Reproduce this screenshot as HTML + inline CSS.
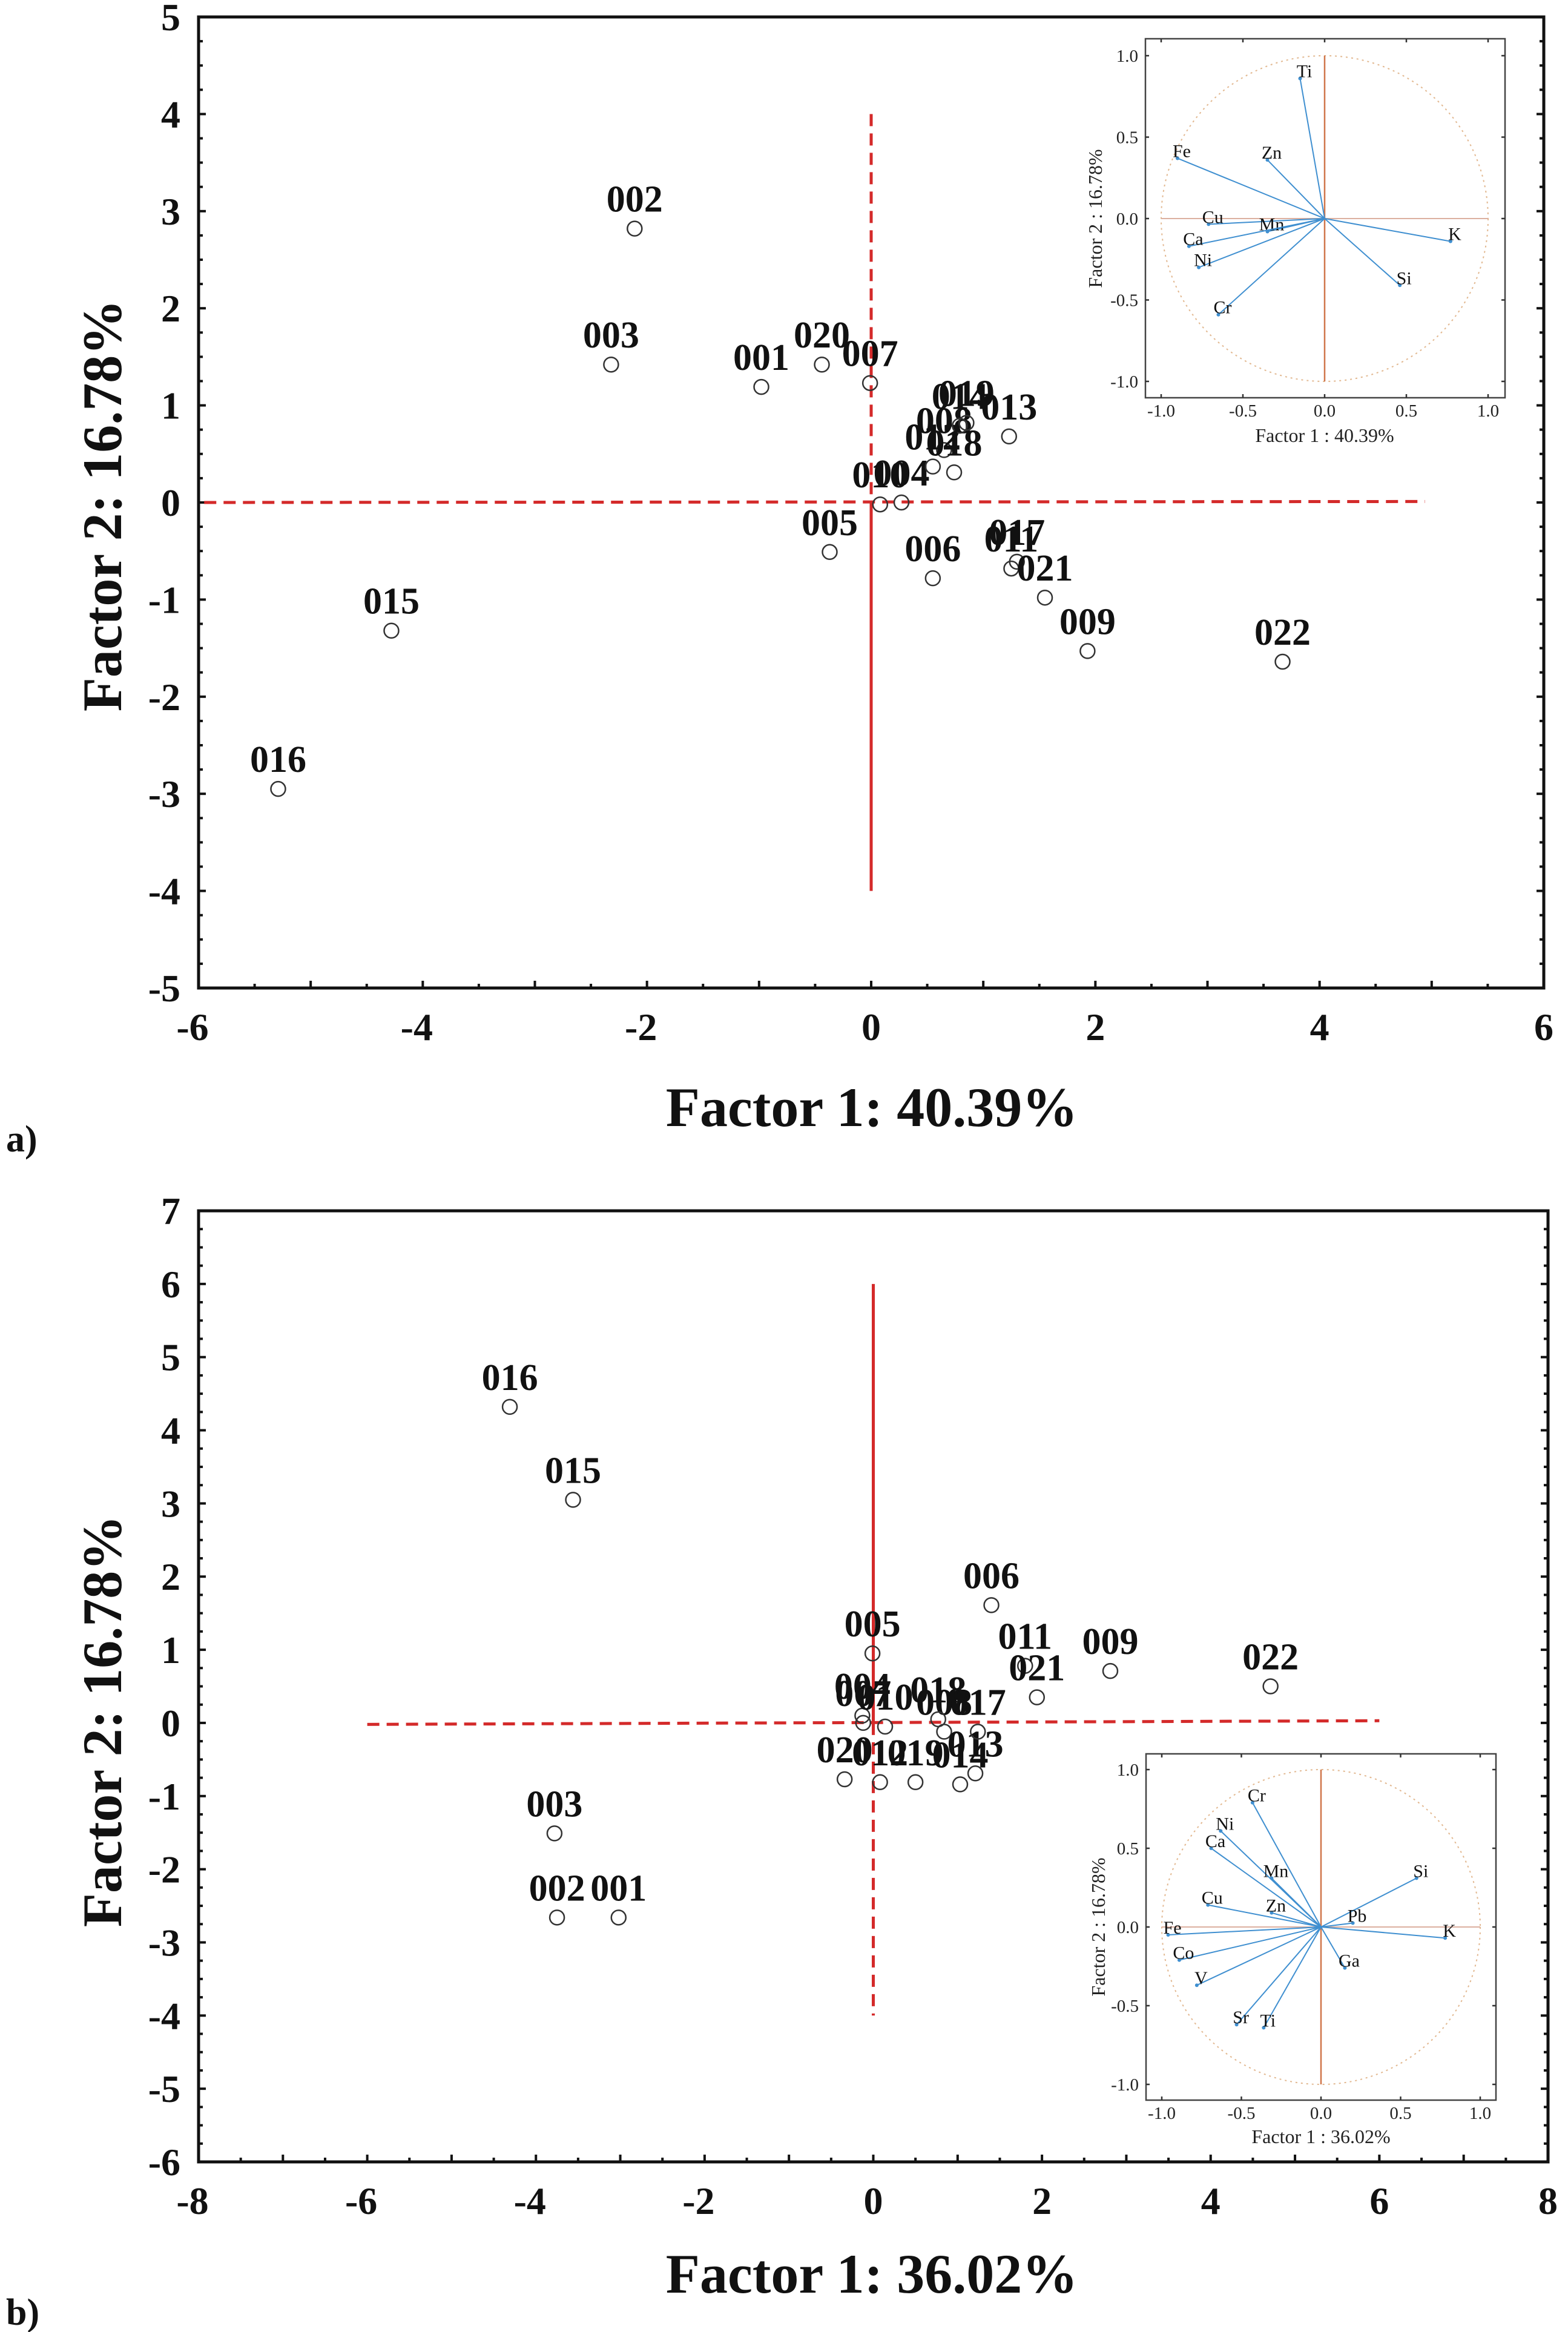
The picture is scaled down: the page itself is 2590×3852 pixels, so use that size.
<!DOCTYPE html>
<html><head><meta charset="utf-8"><style>
html,body{margin:0;padding:0;background:#fff;}
svg{display:block;}
</style></head><body>
<svg id="fig" width="2590" height="3852" viewBox="0 0 2590 3852" xmlns="http://www.w3.org/2000/svg"></svg>
<script>
// ---------- DATA ----------
const aIds = ["001","002","003","004","005","006","007","008","009","010","011","012","013","014","015","016","017","018","019","020","021","022"];
const aX   = [-0.98,-2.11,-2.32,0.27,-0.37,0.55,-0.01,0.65,1.93,0.08,1.25,0.55,1.23,0.79,-4.28,-5.29,1.30,0.74,0.85,-0.44,1.55,3.67];
const aY   = [1.19,2.82,1.42,0.00,-0.51,-0.78,1.23,0.54,-1.53,-0.02,-0.68,0.37,0.68,0.79,-1.32,-2.95,-0.61,0.31,0.82,1.42,-0.98,-1.64];
const bIds = ["001","002","003","004","005","006","007","008","009","010","011","012","013","014","015","016","017","018","019","020","021","022"];
const bX   = [-3.02,-3.75,-3.78,-0.13,-0.01,1.40,-0.12,0.84,2.81,0.14,1.80,0.08,1.21,1.03,-3.56,-4.31,1.24,0.77,0.50,-0.34,1.94,4.71];
const bY   = [-2.66,-2.66,-1.51,0.10,0.95,1.61,0.00,-0.12,0.71,-0.05,0.78,-0.81,-0.69,-0.84,3.05,4.32,-0.12,0.05,-0.81,-0.77,0.35,0.50];
const aXTicks = [-6,-4,-2,0,2,4,6];
const aYTicks = [5,4,3,2,1,0,-1,-2,-3,-4,-5];
const bXTicks = [-8,-6,-4,-2,0,2,4,6,8];
const bYTicks = [7,6,5,4,3,2,1,0,-1,-2,-3,-4,-5,-6];
const iaVars = ["Ti","Fe","Zn","Cu","Mn","Ca","Ni","Cr","K","Si"];
const iaX    = [-0.15,-0.90,-0.35,-0.71,-0.35,-0.83,-0.77,-0.65,0.77,0.46];
const iaY    = [0.86,0.37,0.36,-0.035,-0.08,-0.17,-0.30,-0.59,-0.14,-0.41];
const ibVars = ["Cr","Ni","Ca","Mn","Si","Cu","Zn","Pb","Fe","K","Co","Ga","V","Sr","Ti"];
const ibX    = [-0.43,-0.63,-0.69,-0.31,0.60,-0.71,-0.31,0.20,-0.96,0.78,-0.89,0.15,-0.78,-0.53,-0.36];
const ibY    = [0.79,0.61,0.50,0.31,0.31,0.14,0.09,0.025,-0.05,-0.07,-0.21,-0.26,-0.37,-0.62,-0.64];
const insetTicks = [-1,-0.5,0,0.5,1];

// ---------- HELPERS ----------
const NS="http://www.w3.org/2000/svg";
const svg=document.getElementById('fig');
function mk(tag,attrs,parent,text){
  const e=document.createElementNS(NS,tag);
  for(const k in attrs) e.setAttribute(k,attrs[k]);
  if(text!==undefined) e.textContent=text;
  (parent||svg).appendChild(e);
  return e;
}
const SERIF='"Liberation Serif", "Times New Roman", serif';
const RED='#d42a2a';

function drawMain(cfg){
  const g=mk('g',{});
  
  
  const sx=v=>cfg.L+(v-cfg.xmin)/(cfg.xmax-cfg.xmin)*(cfg.R-cfg.L);
  const sy=v=>cfg.T+(cfg.ymax-v)/(cfg.ymax-cfg.ymin)*(cfg.B-cfg.T);
  const box=mk('rect',{x:cfg.L,y:cfg.T,width:cfg.R-cfg.L,height:cfg.B-cfg.T,fill:'none',stroke:'#111','stroke-width':5},g);
  
  
  for(let v=cfg.ymin; v<=cfg.ymax+1e-9; v+=0.25){
    const maj=Math.abs(v-Math.round(v))<1e-6;
    const t=mk('line',{x1:cfg.L,x2:cfg.L+(maj?12:7),y1:sy(v),y2:sy(v),stroke:'#111','stroke-width':4},g);
    
    
    const t2=mk('line',{x1:cfg.R,x2:cfg.R-(maj?12:7),y1:sy(v),y2:sy(v),stroke:'#111','stroke-width':4},g);
    
    
  }
  for(let v=cfg.xmin; v<=cfg.xmax+1e-9; v+=0.5){
    const maj=Math.abs(v-Math.round(v))<1e-6;
    const t=mk('line',{x1:sx(v),x2:sx(v),y1:cfg.B,y2:cfg.B-(maj?12:7),stroke:'#111','stroke-width':4},g);
    
    
  }
  cfg.yTicks.forEach(v=>{
    const t=mk('text',{x:298,y:sy(v)+22,'text-anchor':'end','font-family':SERIF,'font-weight':'bold','font-size':64,fill:'#111'},g,String(v));
    
    
  });
  cfg.xTicks.forEach(v=>{
    const t=mk('text',{x:sx(v)-(v<0?10:0),y:cfg.xLabelY,'text-anchor':'middle','font-family':SERIF,'font-weight':'bold','font-size':64,fill:'#111'},g,String(v));
    
    
  });
  cfg.refLines.forEach(r=>{
    const l=mk('line',{x1:sx(r[0]),y1:sy(r[1]),x2:sx(r[2]),y2:sy(r[3]),stroke:RED,'stroke-width':5,'stroke-dasharray':r[4]?'20 12':'none'},g);
    
    
  });
  cfg.ids.forEach((id,i)=>{
    const c=mk('circle',{cx:sx(cfg.xs[i]),cy:sy(cfg.ys[i]),r:12,fill:'#fff','fill-opacity':0,stroke:'#333','stroke-width':2.5},g);
    
    
    const t=mk('text',{x:sx(cfg.xs[i]),y:sy(cfg.ys[i])-28,'text-anchor':'middle','font-family':SERIF,'font-weight':'bold','font-size':62,fill:'#111'},g,id);
    
    
  });
  const xt=mk('text',{x:cfg.xTitle[0],y:cfg.xTitle[1],'text-anchor':'middle','font-family':SERIF,'font-weight':'bold','font-size':92,fill:'#111'},g,cfg.xTitle[2]);
  
  
  const yt=mk('text',{x:0,y:0,'text-anchor':'middle','font-family':SERIF,'font-weight':'bold','font-size':92,fill:'#111',transform:`translate(${cfg.yTitle[0]},${cfg.yTitle[1]}) rotate(-90)`},g,cfg.yTitle[2]);
  
  
  const pl=mk('text',{x:10,y:cfg.panelY,'font-family':SERIF,'font-weight':'bold','font-size':62,fill:'#111'},g,cfg.panel);
  
  
}

function drawInset(cfg){
  const g=mk('g',{});
  
  
  const sx=v=>cfg.cx+v*cfg.ux;
  const sy=v=>cfg.cy-v*cfg.uy;
  const bg=mk('rect',{x:cfg.box[0],y:cfg.box[1],width:cfg.box[2]-cfg.box[0],height:cfg.box[3]-cfg.box[1],fill:'#fff',stroke:'#444','stroke-width':2.5},g);
  
  
  insetTicks.forEach(v=>{
    const a=mk('line',{x1:cfg.box[0],x2:cfg.box[0]+6,y1:sy(v),y2:sy(v),stroke:'#333','stroke-width':2.5},g);
    
    
    const b=mk('line',{x1:cfg.box[2],x2:cfg.box[2]-6,y1:sy(v),y2:sy(v),stroke:'#333','stroke-width':2.5},g);
    
    
    const c=mk('line',{x1:sx(v),x2:sx(v),y1:cfg.box[3],y2:cfg.box[3]-6,stroke:'#333','stroke-width':2.5},g);
    
    
    const d=mk('line',{x1:sx(v),x2:sx(v),y1:cfg.box[1],y2:cfg.box[1]+6,stroke:'#333','stroke-width':2.5},g);
    
    
    const s=v.toFixed(1);
    const yl=mk('text',{x:cfg.box[0]-12,y:sy(v)+10,'text-anchor':'end','font-family':SERIF,'font-size':29,fill:'#222'},g,s);
    
    
    const xl=mk('text',{x:sx(v),y:cfg.xLabelY,'text-anchor':'middle','font-family':SERIF,'font-size':29,fill:'#222'},g,s);
    
    
  });
  const circ=mk('ellipse',{cx:sx(0),cy:sy(0),rx:cfg.ux,ry:cfg.uy,fill:'none',stroke:'#e2b890','stroke-width':2,'stroke-dasharray':'3 6'},g);
  
  
  const hl=mk('line',{x1:sx(-1),x2:sx(1),y1:sy(0),y2:sy(0),stroke:'#dcb0a0','stroke-width':2},g);
  
  
  const vl=mk('line',{x1:sx(0),x2:sx(0),y1:sy(1),y2:sy(-1),stroke:'#d0764a','stroke-width':2.5},g);
  
  
  cfg.vars.forEach((n,i)=>{
    const l=mk('line',{x1:sx(0),y1:sy(0),x2:sx(cfg.xs[i]),y2:sy(cfg.ys[i]),stroke:'#3f8fd0','stroke-width':2},g);
    
    
    const d=mk('circle',{cx:sx(cfg.xs[i]),cy:sy(cfg.ys[i]),r:3,fill:'#3f8fd0'},g);
    
    
    const t=mk('text',{x:sx(cfg.xs[i])+7,y:sy(cfg.ys[i])-2,'text-anchor':'middle','font-family':SERIF,'font-size':30,fill:'#111'},g,n);
    
    
  });
  const xt=mk('text',{x:sx(0),y:cfg.xTitleY,'text-anchor':'middle','font-family':SERIF,'font-size':32,fill:'#222'},g,cfg.xTitle);
  
  
  const yt=mk('text',{x:0,y:0,'text-anchor':'middle','font-family':SERIF,'font-size':32,fill:'#222',transform:`translate(${cfg.yTitleX},${sy(0)}) rotate(-90)`},g,'Factor 2 : 16.78%');
  
  
}

drawMain({name:'panel-a-score-plot',xmin:-6,xmax:6,ymin:-5,ymax:5,L:328,R:2550,T:28,B:1632,
  xTicks:aXTicks,yTicks:aYTicks,xLabelY:1718,ids:aIds,xs:aX,ys:aY,
  refLines:[[-5.95,0,4.94,0.01,true,'horizontal-zero-line'],[0,4,0,0,true,'vertical-zero-line-dashed'],[0,0,0,-4,false,'vertical-zero-line-solid']],
  xTitle:[1440,1860,'Factor 1: 40.39%'],yTitle:[200,835,'Factor 2: 16.78%'],panel:'a)',panelY:1902});
drawInset({name:'panel-a-loadings-inset',cx:2188,cy:361,ux:270,uy:269,box:[1892,64,2486,657],xLabelY:688,xTitleY:730,yTitleX:1820,
  vars:iaVars,xs:iaX,ys:iaY,xTitle:'Factor 1 : 40.39%'});

drawMain({name:'panel-b-score-plot',xmin:-8,xmax:8,ymin:-6,ymax:7,L:328,R:2557,T:2000,B:3571,
  xTicks:bXTicks,yTicks:bYTicks,xLabelY:3657,ids:bIds,xs:bX,ys:bY,
  refLines:[[-6,-0.02,6,0.03,true,'horizontal-zero-line'],[0,6,0,0,false,'vertical-zero-line-solid'],[0,0,0,-4,true,'vertical-zero-line-dashed']],
  xTitle:[1440,3787,'Factor 1: 36.02%'],yTitle:[200,2843,'Factor 2: 16.78%'],panel:'b)',panelY:3840});
drawInset({name:'panel-b-loadings-inset',cx:2182,cy:3183,ux:263,uy:260,box:[1893,2897,2471,3469],xLabelY:3500,xTitleY:3540,yTitleX:1825,
  vars:ibVars,xs:ibX,ys:ibY,xTitle:'Factor 1 : 36.02%'});
</script>
</body></html>
